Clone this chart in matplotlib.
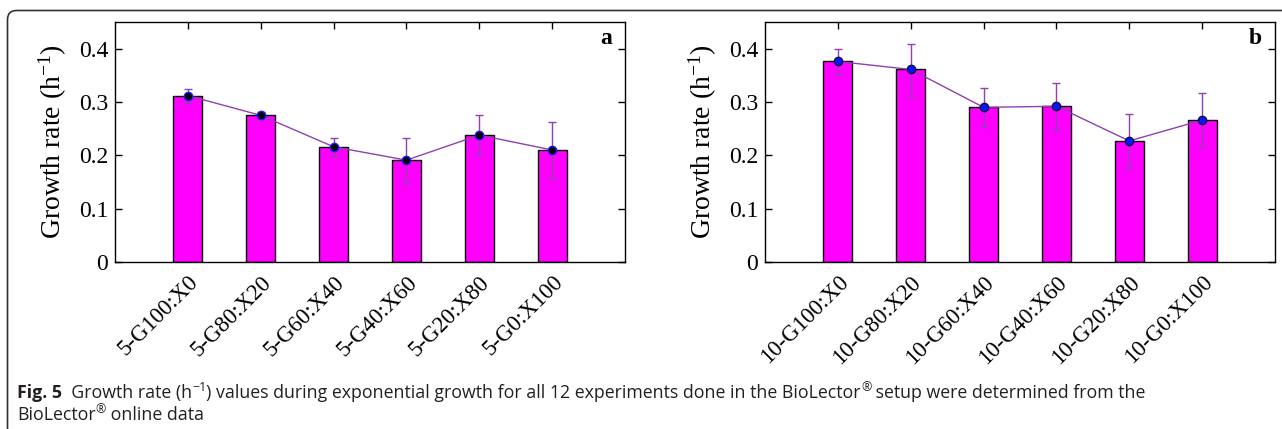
import matplotlib
matplotlib.use("Agg")
import matplotlib.pyplot as plt
from matplotlib import font_manager
from matplotlib.patches import FancyBboxPatch
from matplotlib.transforms import IdentityTransform

# panel a: 5 g/L series, panel b: 10 g/L series
labels_a = ["5-G100:X0", "5-G80:X20", "5-G60:X40", "5-G40:X60", "5-G20:X80", "5-G0:X100"]
rate_a = [0.312, 0.275, 0.216, 0.191, 0.238, 0.210]
err_lo_a = [0.014, 0.007, 0.017, 0.042, 0.036, 0.055]
err_hi_a = [0.013, 0.007, 0.017, 0.042, 0.037, 0.053]

labels_b = ["10-G100:X0", "10-G80:X20", "10-G60:X40", "10-G40:X60", "10-G20:X80", "10-G0:X100"]
rate_b = [0.376, 0.361, 0.290, 0.292, 0.227, 0.266]
err_lo_b = [0.024, 0.049, 0.036, 0.044, 0.050, 0.051]
err_hi_b = [0.024, 0.048, 0.036, 0.043, 0.050, 0.051]

yticks = [0, 0.1, 0.2, 0.3, 0.4]
ytick_labels = ["0", "0.1", "0.2", "0.3", "0.4"]

bar_color = "#ff00ff"
line_color = "#9040b0"
serif = "Liberation Serif"

plt.rcParams["font.family"] = serif
plt.rcParams["mathtext.fontset"] = "custom"
plt.rcParams["mathtext.rm"] = serif
plt.rcParams["mathtext.it"] = serif + ":italic"

W, H = 1282, 429
fig = plt.figure(figsize=(W / 100, H / 100), dpi=100)


def panel(left, labels, rate, lo, hi, tag, mface, medge):
    ax = fig.add_axes([left / W, (H - 262) / H, 510 / W, 240 / H])
    x = list(range(1, len(rate) + 1))
    ax.bar(x, rate, width=0.4, color=bar_color, edgecolor="black", linewidth=1, zorder=2)
    ax.errorbar(x, rate, yerr=[lo, hi], fmt="none", ecolor=line_color, elinewidth=1,
                capsize=3, capthick=1, zorder=3)
    ax.plot(x, rate, color=line_color, linewidth=1, marker="o", markersize=6,
            markerfacecolor=mface, markeredgecolor=medge, markeredgewidth=1, zorder=4)
    ax.set_xlim(0, 7)
    ax.set_ylim(0, 0.45)
    ax.set_xticks(x)
    ax.set_xticklabels(labels, rotation=45, ha="right", va="top", rotation_mode="anchor",
                       fontsize=16.5)
    ax.set_yticks(yticks)
    ax.set_yticklabels(ytick_labels, fontsize=17)
    ax.tick_params(direction="in", top=True, right=True, length=5, width=1, pad=5)
    ax.tick_params(axis="x", pad=7)
    for s in ax.spines.values():
        s.set_linewidth(1)
    ax.set_ylabel(r"Growth rate (h$^{\mathrm{-1}}$)", fontsize=20, labelpad=7)
    ax.text(0.975, 0.93, tag, transform=ax.transAxes, ha="right", va="center",
            fontsize=17, fontweight="bold")
    return ax


panel(115, labels_a, rate_a, err_lo_a, err_hi_a, "a", "black", "#1a1aff")
panel(765, labels_b, rate_b, err_lo_b, err_hi_b, "b", "#0a14ff", "#101040")

# outer frame with rounded top-left corner
frame = FancyBboxPatch((7.5, -30), 1400, H - 10 + 30 - 0.5,
                       boxstyle="round,pad=0,rounding_size=9",
                       transform=IdentityTransform(), fill=False,
                       edgecolor="#333333", linewidth=1.2)
fig.add_artist(frame)

# caption
names = {f.name for f in font_manager.fontManager.ttflist}
cap_font = "Liberation Sans Narrow" if "Liberation Sans Narrow" in names else "Open Sans"
cap_color = "#231f20"
renderer = fig.canvas.get_renderer()


def rich(x, y, parts, size):
    objs = []
    for s, weight, sup in parts:
        fs = size * (0.7 if sup else 1.0)
        dy = size * 0.55 if sup else 0
        t = fig.text(x, y + dy, s, transform=IdentityTransform(), fontsize=fs,
                     fontweight=weight, family=[cap_font, "DejaVu Sans"],
                     color=cap_color, va="baseline", ha="left")
        objs.append(t)
        x = t.get_window_extent(renderer).x1
    return objs, x


line1 = [("Fig. 5", "bold", False), ("  Growth rate (h", "normal", False),
         ("\u22121", "normal", True),
         (") values during exponential growth for all 12 experiments done in the BioLector", "normal", False),
         ("\u00ae", "normal", True),
         (" setup were determined from the", "normal", False)]
line2 = [("BioLector", "normal", False), ("\u00ae", "normal", True),
         (" online data", "normal", False)]

size = 13
objs, xend = rich(17, H - 398, line1, size)
size = size * (1143 - 17) / (xend - 17)
for o in objs:
    o.remove()
rich(17, H - 398, line1, size)
rich(17, H - 420, line2, size)

fig.savefig("out.png", dpi=100)
